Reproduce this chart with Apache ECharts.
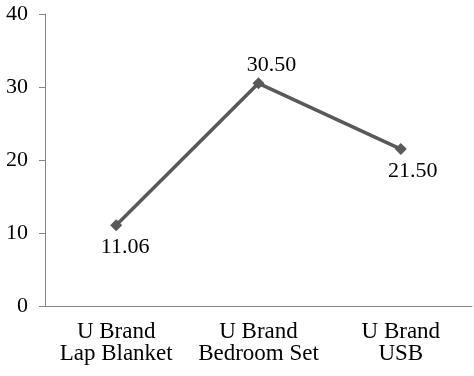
<!DOCTYPE html>
<html>
<head>
<meta charset="utf-8">
<script src="https://cdn.jsdelivr.net/npm/echarts@6/dist/echarts.min.js"></script>
<style>html,body{margin:0;padding:0;background:#fff;}#c{width:474px;height:376px;}</style>
</head>
<body>
<div id="c"></div>
<script>
var categories = ['U Brand\nLap Blanket', 'U Brand\nBedroom Set', 'U Brand\nUSB'];
var values = [11.06, 30.50, 21.50];
var labelPositions = ['bottom', 'top', 'bottom'];
var yTicks = [0, 10, 20, 30, 40];

var chart = echarts.init(document.getElementById('c'), null, {renderer: 'canvas'});
var font = '"Liberation Serif", "Times New Roman", serif';
var labelDistances = [5, 1, 5];
var labelOffsets = [[9, 0], [13, 0], [12, 0]];
chart.setOption({
  animation: false,
  backgroundColor: '#fff',
  grid: {left: 45, right: 2, top: 14, bottom: 70},
  xAxis: {
    type: 'category',
    data: categories,
    boundaryGap: true,
    axisLine: {lineStyle: {color: '#868686', width: 1}},
    axisTick: {show: false},
    axisLabel: {color: '#000', fontFamily: font, fontSize: 23, lineHeight: 22, margin: 15, interval: 0}
  },
  yAxis: {
    type: 'value',
    min: yTicks[0],
    max: yTicks[yTicks.length - 1],
    interval: 10,
    axisLine: {show: true, lineStyle: {color: '#868686', width: 1}},
    axisTick: {show: true, length: 6, lineStyle: {color: '#868686'}},
    splitLine: {show: false},
    axisLabel: {color: '#000', fontFamily: font, fontSize: 22, margin: 17}
  },
  series: [{
    type: 'line',
    data: values.map(function (v, i) {
      return {value: v, label: {position: labelPositions[i], distance: labelDistances[i], offset: labelOffsets[i]}};
    }),
    symbol: 'diamond',
    symbolSize: 12,
    lineStyle: {color: '#595959', width: 3.5},
    itemStyle: {color: '#595959'},
    label: {
      show: true,
      color: '#000',
      fontFamily: font,
      fontSize: 22,
      formatter: function (p) { return p.value.toFixed(2); }
    }
  }]
});
</script>
</body>
</html>
